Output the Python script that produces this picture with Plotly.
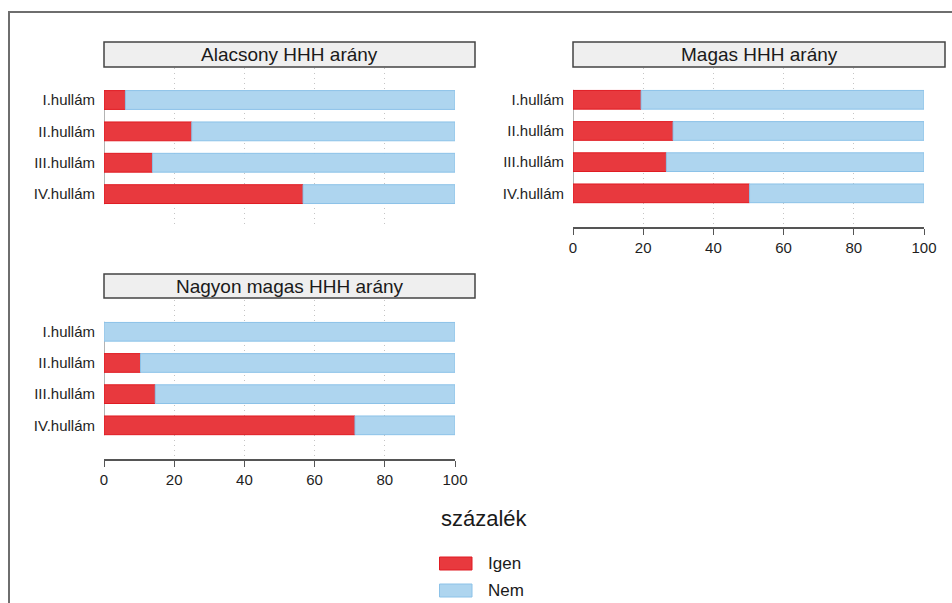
import plotly.graph_objects as go

W, H = 952, 603

waves = ["I.hullám", "II.hullám", "III.hullám", "IV.hullám"]
panels = ["Alacsony HHH arány", "Magas HHH arány", "Nagyon magas HHH arány"]
igen_alacsony = [6.1, 25.0, 13.8, 56.7]
igen_magas = [19.4, 28.5, 26.6, 50.3]
igen_nagyon = [0.0, 10.4, 14.6, 71.5]
igen_values = [igen_alacsony, igen_magas, igen_nagyon]
x_ticks = [0, 20, 40, 60, 80, 100]
x_title = "százalék"
legend_labels = ["Igen", "Nem"]

RED = "#E8393E"
RED_EDGE = "#E01B22"
BLUE = "#AED5EF"
BLUE_EDGE = "#8CC2E8"
FONT = "Liberation Sans, Arial, sans-serif"

# panel geometry in pixels: (x0, x1, ytop, ybottom, strip_x1, strip_ytop, strip_ybot, show_axis)
geom = [
    (104, 455, 68, 228, 475, 42, 67, False),
    (573, 924, 68, 227, 945, 42, 67, True),
    (104, 455, 300, 459, 475, 274, 298, True),
]

def px(x):
    return x / W

def py(y):
    return 1 - y / H

fig = go.Figure()
shapes = []
annotations = []
ypos = list(range(len(waves)))

for i, (name, vals) in enumerate(zip(panels, igen_values)):
    n = i + 1
    xa = "x" if n == 1 else f"x{n}"
    ya = "y" if n == 1 else f"y{n}"
    nem = [100 - v for v in vals]
    fig.add_trace(go.Bar(
        y=ypos, x=vals, orientation="h", name=legend_labels[0],
        marker=dict(color=RED, line=dict(color=RED_EDGE, width=1)),
        width=0.6, xaxis=xa, yaxis=ya, showlegend=False))
    fig.add_trace(go.Bar(
        y=ypos, x=nem, base=vals, orientation="h", name=legend_labels[1],
        marker=dict(color=BLUE, line=dict(color=BLUE_EDGE, width=1)),
        width=0.6, xaxis=xa, yaxis=ya, showlegend=False))

    x0, x1, yt, yb, sx1, sy0, sy1, show_axis = geom[i]
    xkey = "xaxis" if n == 1 else f"xaxis{n}"
    ykey = "yaxis" if n == 1 else f"yaxis{n}"
    fig.layout[xkey] = dict(
        domain=[px(x0), px(x1)], range=[0, 100], anchor=ya,
        tickvals=x_ticks, showgrid=True, gridcolor="#C4C4C4", griddash="1px,4px",
        gridwidth=1, zeroline=False, automargin=False,
        showline=show_axis, linecolor="#555555", linewidth=1.5,
        ticks="outside" if show_axis else "", ticklen=6, tickcolor="#555555",
        tickwidth=1, showticklabels=show_axis,
        tickfont=dict(family=FONT, size=15, color="#1E1E1E"), fixedrange=True)
    fig.layout[ykey] = dict(
        domain=[py(yb), py(yt)], range=[4.08, -1.02], anchor=xa,
        tickvals=ypos, ticktext=waves, showgrid=False, zeroline=False,
        showline=False, ticks="", ticklabelstandoff=8, automargin=False,
        tickfont=dict(family=FONT, size=15, color="#1E1E1E"), fixedrange=True)

    # y axis line along category range
    shapes.append(dict(type="line", xref=xa, yref=ya, x0=0, x1=0, y0=-0.32, y1=3.32,
                       line=dict(color="#9A9A9A", width=1.5), layer="below"))
    # strip
    shapes.append(dict(type="rect", xref="paper", yref="paper",
                       x0=px(x0), x1=px(sx1), y0=py(sy1), y1=py(sy0),
                       fillcolor="#EFEFEF", line=dict(color="#444444", width=1.5)))
    annotations.append(dict(text=name, xref="paper", yref="paper",
                            x=px((x0 + sx1) / 2), y=py((sy0 + sy1) / 2),
                            xanchor="center", yanchor="middle", showarrow=False,
                            font=dict(family=FONT, size=19, color="#1A1A1A")))

# outer frame (cropped)
shapes.append(dict(type="line", xref="paper", yref="paper", x0=px(9), x1=px(9),
                   y0=py(11), y1=py(603), line=dict(color="#6E6E6E", width=2)))
shapes.append(dict(type="line", xref="paper", yref="paper", x0=px(8), x1=px(952),
                   y0=py(12), y1=py(12), line=dict(color="#6E6E6E", width=2)))

# axis title
annotations.append(dict(text=x_title, xref="paper", yref="paper", x=px(439), y=py(518),
                        xanchor="left", yanchor="middle", showarrow=False,
                        font=dict(family=FONT, size=22, color="#1A1A1A")))

# legend
leg = [(legend_labels[0], RED, RED_EDGE, 563.5), (legend_labels[1], BLUE, BLUE_EDGE, 590.5)]
for lab, fc, lc, yc in leg:
    shapes.append(dict(type="rect", xref="paper", yref="paper",
                       x0=px(439.5), x1=px(472), y0=py(yc + 6.5), y1=py(yc - 6.5),
                       fillcolor=fc, line=dict(color=lc, width=1)))
    annotations.append(dict(text=lab, xref="paper", yref="paper", x=px(486), y=py(yc),
                            xanchor="left", yanchor="middle", showarrow=False,
                            font=dict(family=FONT, size=17, color="#1A1A1A")))

fig.update_layout(
    width=W, height=H, autosize=False,
    margin=dict(l=0, r=0, t=0, b=0, pad=0, autoexpand=False),
    paper_bgcolor="white", plot_bgcolor="white",
    barmode="overlay", showlegend=False,
    shapes=shapes, annotations=annotations,
    font=dict(family=FONT),
)

fig.write_html(
    "out.html",
    config={"displayModeBar": False, "responsive": False},
    post_script=(
        "document.body.style.margin='0';document.body.style.overflow='hidden';"
        "var gd=document.getElementById('{plot_id}');"
        "Plotly.relayout(gd,{width:952,height:603});"
    ),
)
